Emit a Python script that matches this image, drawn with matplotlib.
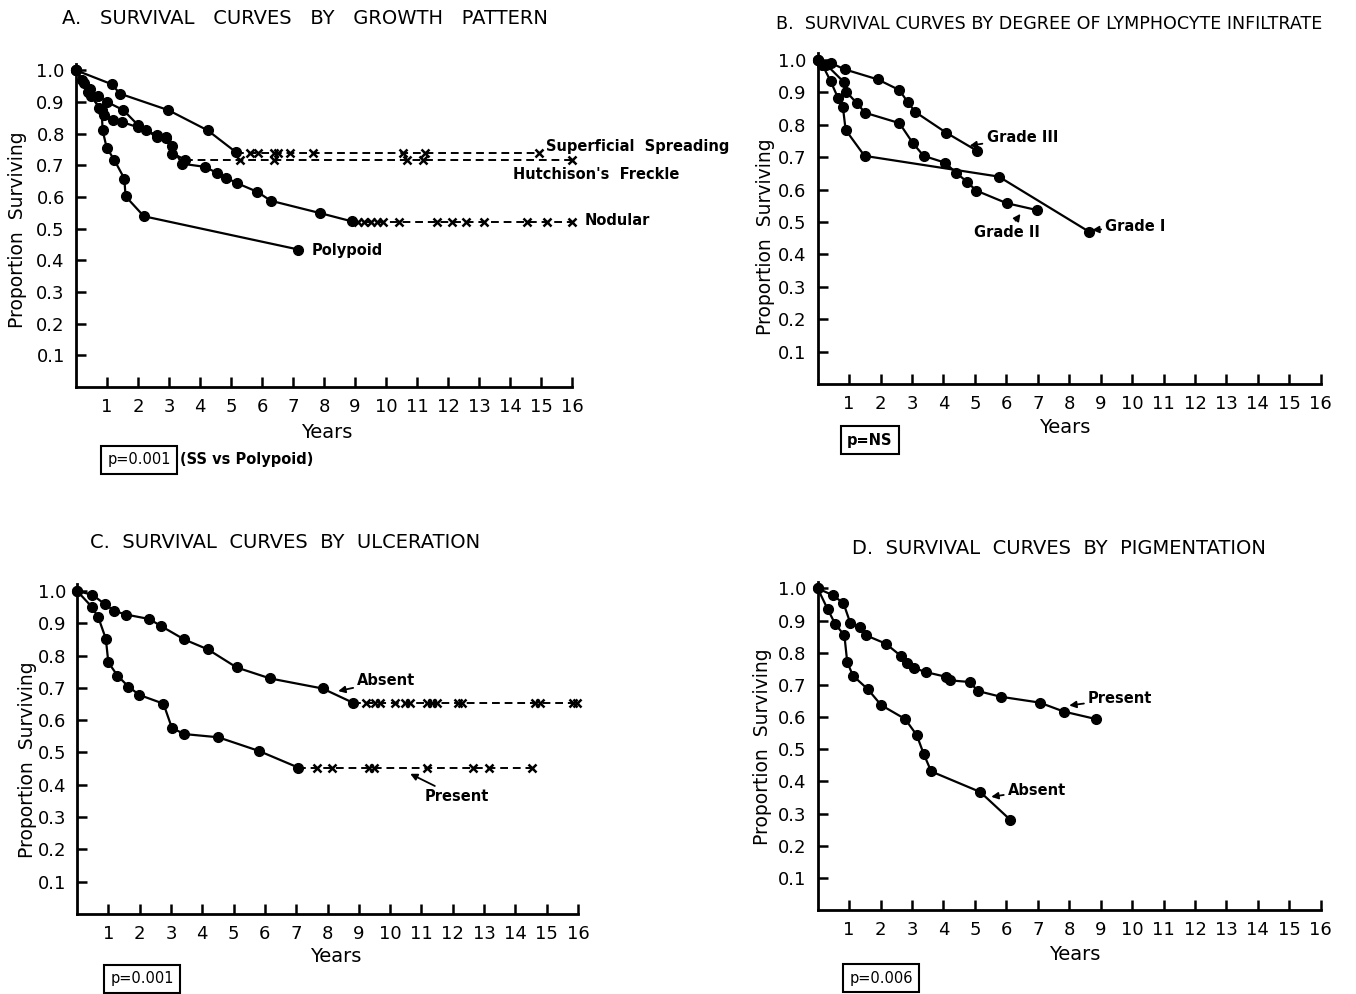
import matplotlib
matplotlib.use('Agg')
import matplotlib.pyplot as plt

# Panel A - growth pattern
ss_years = [0, 1.15, 1.42, 2.98, 4.25, 5.15]
ss_surv = [1.0, 0.956, 0.926, 0.874, 0.81, 0.742]
ss_cens = [5.6, 5.88, 6.37, 6.53, 6.9, 7.65, 10.56, 11.26, 14.92]

hf_years = [0, 0.25, 0.5, 0.75, 0.9, 1.2, 1.47, 2.0, 2.26, 2.6, 2.9, 3.11, 3.52]
hf_surv = [1.0, 0.96, 0.92, 0.88, 0.86, 0.844, 0.837, 0.82, 0.81, 0.795, 0.79, 0.737, 0.718]
hf_cens = [5.29, 6.37, 10.67, 11.2, 16.0]

nod_years = [0, 0.2, 0.45, 0.7, 1.0, 1.53, 2.01, 2.6, 2.9, 3.1, 3.41, 4.16, 4.54, 4.83,
             5.18, 5.85, 6.28, 7.87, 8.89]
nod_surv = [1.0, 0.97, 0.94, 0.92, 0.9, 0.874, 0.826, 0.79, 0.785, 0.76, 0.705, 0.695,
            0.676, 0.661, 0.644, 0.616, 0.588, 0.549, 0.523]
nod_cens = [9.1, 9.3, 9.5, 9.7, 9.9, 10.4, 11.64, 12.12, 12.57, 13.14, 14.54, 15.18, 16.0]

poly_years = [0, 0.4, 0.83, 0.86, 0.99, 1.24, 1.56, 1.6, 2.19, 7.17]
poly_surv = [1.0, 0.93, 0.874, 0.81, 0.756, 0.716, 0.658, 0.602, 0.539, 0.434]

# Panel B - lymphocyte infiltrate
g3_years = [0, 0.43, 0.86, 1.91, 2.6, 2.87, 3.11, 4.08, 5.06]
g3_surv = [1.0, 0.99, 0.971, 0.94, 0.907, 0.869, 0.839, 0.776, 0.72]
g2_years = [0, 0.28, 0.84, 0.91, 1.25, 1.51, 2.6, 3.03, 3.37, 4.05, 4.4, 4.75, 5.04, 6.01, 6.96]
g2_surv = [1.0, 0.985, 0.931, 0.902, 0.866, 0.837, 0.805, 0.743, 0.704, 0.683, 0.652,
           0.624, 0.597, 0.558, 0.537]
g1_years = [0, 0.15, 0.41, 0.65, 0.8, 0.89, 1.49, 5.76, 8.63]
g1_surv = [1.0, 0.985, 0.935, 0.882, 0.856, 0.784, 0.704, 0.64, 0.47]

# Panel C - ulceration
ulc_abs_years = [0, 0.49, 0.89, 1.19, 1.56, 2.31, 2.67, 3.42, 4.18, 5.1, 6.17, 7.84, 8.81]
ulc_abs_surv = [1.0, 0.988, 0.959, 0.938, 0.927, 0.913, 0.892, 0.85, 0.819, 0.763, 0.729,
                0.698, 0.654]
ulc_abs_cens = [9.23, 9.52, 9.68, 10.16, 10.48, 10.64, 11.17, 11.33, 11.49, 12.17, 12.3,
                14.63, 14.79, 15.84, 15.97]
ulc_pre_years = [0, 0.47, 0.68, 0.92, 1.0, 1.29, 1.64, 1.99, 2.76, 3.03, 3.42, 4.51, 5.8, 7.07]
ulc_pre_surv = [1.0, 0.951, 0.918, 0.852, 0.779, 0.738, 0.704, 0.678, 0.651, 0.576, 0.557,
                0.547, 0.505, 0.453]
ulc_pre_cens = [7.66, 8.14, 9.31, 9.47, 11.17, 12.66, 13.14, 14.53]

# Panel D - pigmentation
pig_pre_years = [0, 0.48, 0.82, 1.04, 1.35, 1.54, 2.17, 2.66, 2.85, 3.06, 3.43, 4.09, 4.22,
                 4.84, 5.09, 5.83, 7.06, 7.83, 8.84]
pig_pre_surv = [1.0, 0.979, 0.954, 0.892, 0.879, 0.854, 0.828, 0.789, 0.769, 0.753, 0.74,
                0.725, 0.714, 0.709, 0.681, 0.663, 0.645, 0.617, 0.594]
pig_abs_years = [0, 0.32, 0.56, 0.85, 0.94, 1.12, 1.6, 2.02, 2.78, 3.15, 3.37, 3.61, 5.17, 6.13]
pig_abs_surv = [1.0, 0.935, 0.889, 0.854, 0.771, 0.729, 0.686, 0.637, 0.594, 0.544, 0.486,
                0.431, 0.367, 0.28]

year_ticks = list(range(1, 17))
surv_ticks = [0.1, 0.2, 0.3, 0.4, 0.5, 0.6, 0.7, 0.8, 0.9, 1.0]

plt.rcParams['font.family'] = 'DejaVu Sans'
fig = plt.figure(figsize=(13.56, 9.94), dpi=100)


def setup(ax):
    ax.set_xlim(0, 16)
    ax.set_ylim(0, 1.02)
    ax.spines['top'].set_visible(False)
    ax.spines['right'].set_visible(False)
    ax.spines['left'].set_linewidth(2)
    ax.spines['bottom'].set_linewidth(2)
    ax.set_xticks(year_ticks)
    ax.set_yticks(surv_ticks)
    ax.set_yticklabels(['%.1f' % v for v in surv_ticks])
    ax.tick_params(direction='in', length=7, width=1.8, labelsize=13, pad=8)


def curve(ax, xs, ys):
    ax.plot(xs, ys, '-', color='black', lw=1.6, marker='o', ms=7, clip_on=False)


def censored(ax, start, level, xs):
    ax.plot([start, xs[-1]], [level, level], '--', color='black', lw=1.4, dashes=(4, 2.5), clip_on=False)
    ax.plot(xs, [level] * len(xs), 'x', color='black', ms=5.5, mew=1.8, clip_on=False)


def arrow_label(ax, text, tip, txt):
    ax.annotate(text, xy=tip, xytext=txt, fontsize=10.5, fontweight='bold', va='center',
                arrowprops=dict(arrowstyle='-|>', color='black', lw=1.3, mutation_scale=10,
                                shrinkA=1, shrinkB=0))


#Panel A
axA = fig.add_axes([0.056, 0.6107, 0.366, 0.325])
setup(axA)
censored(axA, ss_years[-1], 0.74, ss_cens)
censored(axA, hf_years[-1], 0.716, hf_cens)
censored(axA, nod_years[-1], 0.522, nod_cens)
curve(axA, ss_years, ss_surv)
curve(axA, hf_years, hf_surv)
curve(axA, nod_years, nod_surv)
curve(axA, poly_years, poly_surv)
axA.text(15.15, 0.76, 'Superficial  Spreading', fontsize=10.5, fontweight='bold', va='center')
axA.text(14.1, 0.672, "Hutchison's  Freckle", fontsize=10.5, fontweight='bold', va='center')
axA.text(16.4, 0.526, 'Nodular', fontsize=10.5, fontweight='bold', va='center', clip_on=False)
axA.text(7.6, 0.432, 'Polypoid', fontsize=10.5, fontweight='bold', va='center')

#Panel B
axB = fig.add_axes([0.603, 0.6137, 0.371, 0.3325])
setup(axB)
curve(axB, g3_years, g3_surv)
curve(axB, g2_years, g2_surv)
curve(axB, g1_years, g1_surv)
arrow_label(axB, 'Grade III', (4.83, 0.735), (5.37, 0.762))
arrow_label(axB, 'Grade II', (6.45, 0.525), (4.98, 0.469))
arrow_label(axB, 'Grade I', (8.73, 0.475), (9.15, 0.485))

#Panel C
axC = fig.add_axes([0.0568, 0.0805, 0.3695, 0.3315])
setup(axC)
censored(axC, ulc_abs_years[-1], 0.654, ulc_abs_cens)
censored(axC, ulc_pre_years[-1], 0.453, ulc_pre_cens)
curve(axC, ulc_abs_years, ulc_abs_surv)
curve(axC, ulc_pre_years, ulc_pre_surv)
arrow_label(axC, 'Absent', (8.34, 0.69), (8.95, 0.722))
arrow_label(axC, 'Present', (10.64, 0.434), (11.1, 0.3625))

#Panel D
axD = fig.add_axes([0.603, 0.0845, 0.371, 0.330])
setup(axD)
curve(axD, pig_pre_years, pig_pre_surv)
curve(axD, pig_abs_years, pig_abs_surv)
arrow_label(axD, 'Present', (8.0, 0.636), (8.6, 0.657))
arrow_label(axD, 'Absent', (5.52, 0.352), (6.05, 0.373))

#Titles and axis labels
title_kw = dict(fontsize=14, va='center', ha='left')
fig.text(62 / 1356, 1 - 18 / 994, 'A.   SURVIVAL   CURVES   BY   GROWTH   PATTERN', **title_kw)
fig.text(776 / 1356, 1 - 24 / 994, 'B.  SURVIVAL CURVES BY DEGREE OF LYMPHOCYTE INFILTRATE',
         fontsize=12.6, va='center', ha='left')
fig.text(90 / 1356, 1 - 542 / 994, 'C.  SURVIVAL  CURVES  BY  ULCERATION', **title_kw)
fig.text(852 / 1356, 1 - 549 / 994, 'D.  SURVIVAL  CURVES  BY  PIGMENTATION', **title_kw)

for px, py in [(18, 230), (765, 237), (28, 760), (762, 747)]:
    fig.text(px / 1356, 1 - py / 994, 'Proportion  Surviving', fontsize=13.5, rotation=90,
             ha='center', va='center')
for px, py in [(327, 432), (1065, 428), (336, 957), (1075, 955)]:
    fig.text(px / 1356, 1 - py / 994, 'Years', fontsize=14, ha='center', va='center')

box = dict(boxstyle='square,pad=0.45', facecolor='white', edgecolor='black', lw=1.5)
fig.text(139 / 1356, 1 - 460 / 994, 'p=0.001', fontsize=10.5, ha='center', va='center', bbox=box)
fig.text(180 / 1356, 1 - 460 / 994, '(SS vs Polypoid)', fontsize=10.5, fontweight='bold', ha='left', va='center')
fig.text(870 / 1356, 1 - 440 / 994, 'p=NS', fontsize=10.5, fontweight='bold', ha='center', va='center', bbox=box)
fig.text(142 / 1356, 1 - 979 / 994, 'p=0.001', fontsize=10.5, ha='center', va='center', bbox=box)
fig.text(881 / 1356, 1 - 978 / 994, 'p=0.006', fontsize=10.5, ha='center', va='center', bbox=box)

plt.savefig('out.png', dpi=100)
